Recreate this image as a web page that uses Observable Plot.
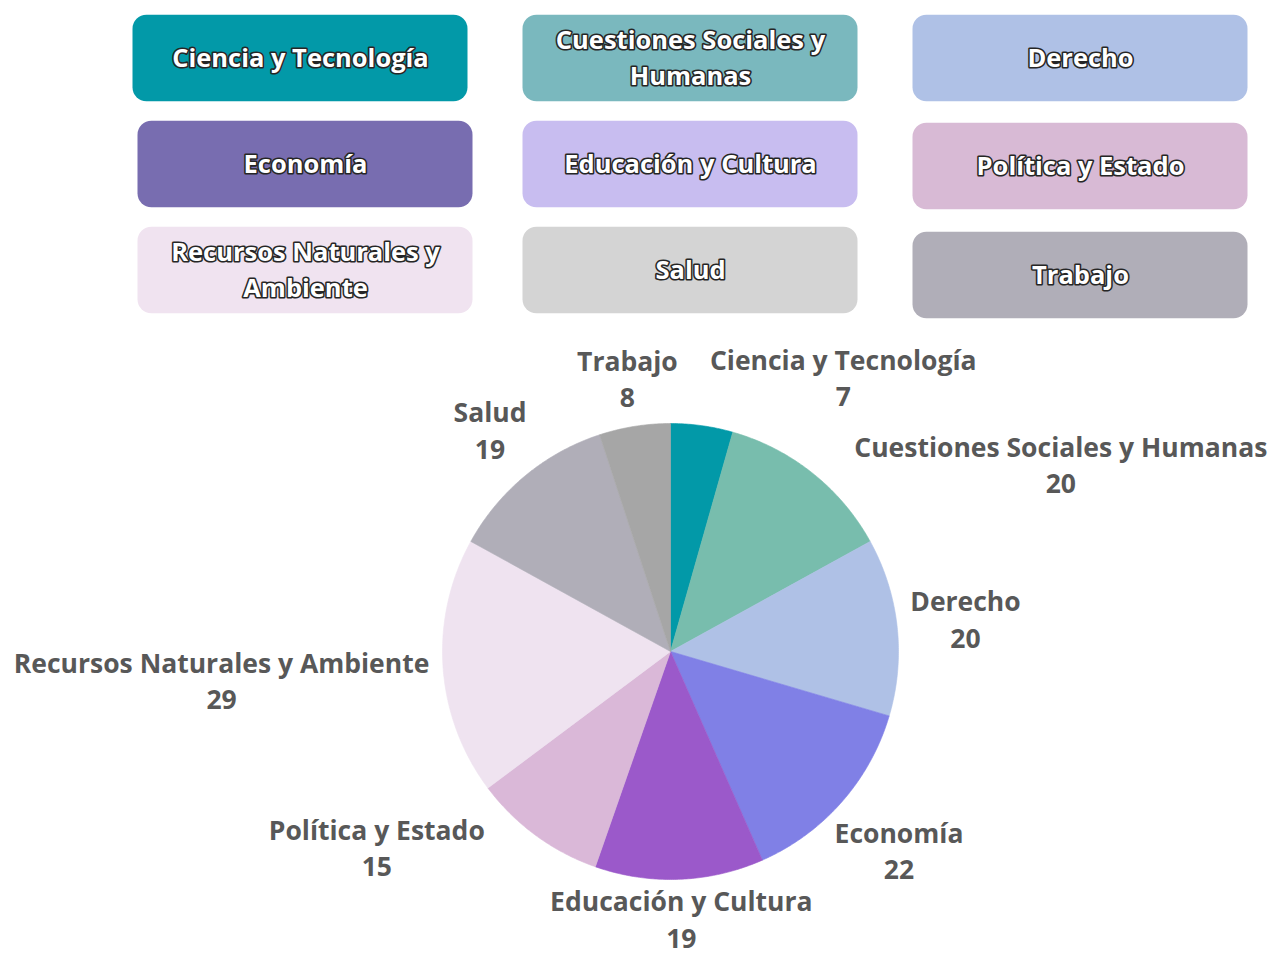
<!DOCTYPE html>
<html>
<head>
<meta charset="utf-8">
<script src="https://cdn.jsdelivr.net/npm/d3@7"></script>
<script src="https://cdn.jsdelivr.net/npm/@observablehq/plot@0.6"></script>
<style>
  html, body { margin: 0; padding: 0; background: #ffffff; }
  #chart svg { display: block; }
</style>
</head>
<body>
<div id="chart"></div>
<script>
// ---- data ----
const categories = [
  "Ciencia y Tecnología", "Cuestiones Sociales y Humanas", "Derecho",
  "Economía", "Educación y Cultura", "Política y Estado",
  "Recursos Naturales y Ambiente", "Salud", "Trabajo"
];
const values = [7, 20, 20, 22, 19, 15, 29, 19, 8];
const legendLabels = [
  "Ciencia y Tecnología", "Cuestiones Sociales y\nHumanas", "Derecho",
  "Economía", "Educación y Cultura", "Política y Estado",
  "Recursos Naturales y\nAmbiente", "Salud", "Trabajo"
];

// ---- styles / layout ----
const pieColors = ["#0299A8", "#78BDAD", "#AFC1E6", "#8080E6", "#9B59CA", "#DAB8D8", "#EFE3F0", "#B0AEB8", "#A6A6A6"];
const boxColors = ["#0299A8", "#7AB8BE", "#AFC1E6", "#786DB0", "#C8BDF0", "#D8BAD5", "#F0E3F0", "#D4D4D4", "#B0AEB8"];
const boxNudge = [[0, 0], [0, 0], [0, 0], [5, 0], [0, 0], [0, 2], [5, 0], [0, 0], [0, 5]];
const labelNudge = [[135, -4], [220, 26], [23, -4], [23, 17], [0, -7], [-132, -26], [-176, 9], [-6, -12], [0, -4]];
const font = "'Open Sans', 'Noto Sans', sans-serif";

// ---- legend (boxes) ----
const legendData = categories.map((c, i) => ({
  cat: c, label: legendLabels[i], col: i % 3, row: Math.floor(i / 3), i
}));

const legend = Plot.plot({
  width: 1271, height: 330,
  margin: 0,
  style: { fontFamily: font, background: "white" },
  x: { type: "band", domain: [0, 1, 2], range: [105, 1275], padding: 0, axis: null },
  y: { type: "band", domain: [0, 1, 2], range: [4, 323.5], padding: 0, axis: null },
  color: { domain: categories, range: boxColors },
  marks: legendData.flatMap(d => [
    Plot.cell([d], {
      x: "col", y: "row", fill: "cat",
      dx: boxNudge[d.i][0], dy: boxNudge[d.i][1],
      insetLeft: 27.5, insetRight: 27.5, insetTop: 9.75, insetBottom: 9.75,
      rx: 14
    }),
    Plot.text([d], {
      x: "col", y: "row", text: "label",
      dx: boxNudge[d.i][0], dy: boxNudge[d.i][1] - 3,
      fill: "white", stroke: "#262626", strokeWidth: 3.2, strokeLinejoin: "round",
      fontSize: 25.5, fontWeight: 700, lineHeight: 1.42
    })
  ])
});

// ---- pie ----
const total = d3.sum(values);
let cum = 0;
const slices = categories.map((c, i) => {
  const a0 = cum / total * 2 * Math.PI;
  cum += values[i];
  const a1 = cum / total * 2 * Math.PI;
  return { cat: c, value: values[i], a0, a1, mid: (a0 + a1) / 2, i };
});
const piePts = slices.flatMap(s => {
  const n = Math.max(2, Math.ceil((s.a1 - s.a0) / (Math.PI / 360)));
  const pts = [{ cat: s.cat, x: 0, y: 0 }];
  for (let k = 0; k <= n; k++) {
    const a = s.a0 + (s.a1 - s.a0) * k / n;
    pts.push({ cat: s.cat, x: Math.sin(a), y: Math.cos(a) });
  }
  pts.push({ cat: s.cat, x: 0, y: 0 });
  return pts;
});
const labelR = 1.2;
const labels = slices.map(s => ({
  cat: s.cat,
  text: s.cat + "\n" + s.value,
  x: labelR * Math.sin(s.mid),
  y: labelR * Math.cos(s.mid),
  dx: labelNudge[s.i][0],
  dy: labelNudge[s.i][1]
}));

const pie = Plot.plot({
  width: 1271, height: 624,
  margin: 0,
  style: { fontFamily: font, background: "white", overflow: "visible" },
  x: { domain: [-1, 1], range: [442, 898], axis: null },
  y: { domain: [-1, 1], range: [549, 93], axis: null },
  color: { domain: categories, range: pieColors },
  marks: [
    Plot.line(piePts, { x: "x", y: "y", z: "cat", fill: "cat", stroke: "cat", strokeWidth: 0.6, curve: "linear" }),
    ...labels.map(l => Plot.text([l], {
      x: "x", y: "y", text: "text", dx: l.dx, dy: l.dy,
      fill: "#585858", fontSize: 26.5, fontWeight: 700, lineHeight: 1.38
    }))
  ]
});

document.getElementById("chart").append(legend, pie);
</script>
</body>
</html>
